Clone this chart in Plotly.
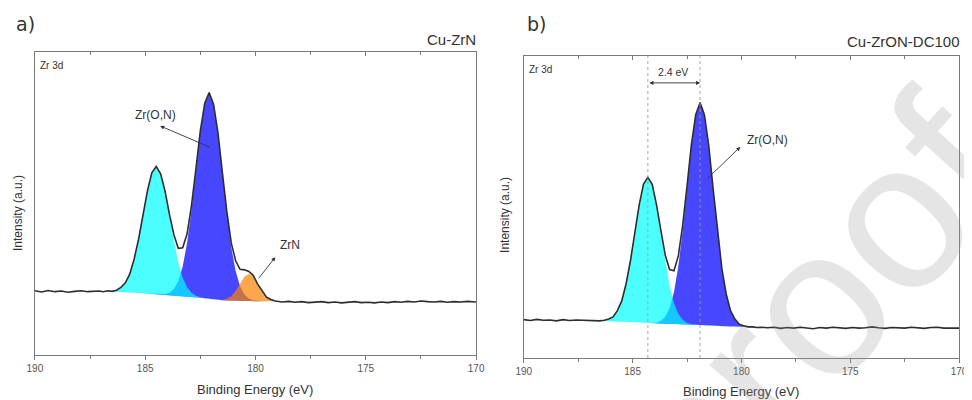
import plotly.graph_objects as go

# ---------------- data ----------------
energy_flat_left = [190.0, 189.7, 189.4, 189.1, 188.8, 188.5, 188.2, 187.9, 187.6, 187.3]
energy_grid = [187.1, 186.9, 186.7, 186.5, 186.3, 186.1, 185.9, 185.7, 185.5, 185.3,
               185.1, 184.9, 184.7, 184.5, 184.3, 184.1, 183.9, 183.7, 183.5, 183.3,
               183.1, 182.9, 182.7, 182.5, 182.3, 182.1, 181.9, 181.7, 181.5, 181.3,
               181.1, 180.9, 180.7, 180.5, 180.3, 180.1, 179.9, 179.7, 179.5, 179.3, 179.1]
energy_flat_right = [178.8, 178.5, 178.2, 177.9, 177.6, 177.3, 177.0, 176.7, 176.4, 176.1,
                     175.8, 175.5, 175.2, 174.9, 174.6, 174.3, 174.0, 173.7, 173.4, 173.1,
                     172.8, 172.5, 172.2, 171.9, 171.6, 171.3, 171.0, 170.7, 170.4, 170.1, 170.0]

# panel a) Cu-ZrN
bg_a = [21.0, 21.0, 20.9, 20.9, 20.8, 20.8, 20.7, 20.7, 20.6, 20.5, 20.4, 20.3, 20.2, 20.1, 20.0,
        19.8, 19.7, 19.6, 19.5, 19.4, 19.3, 19.2, 19.0, 18.9, 18.7, 18.5, 18.4, 18.2, 18.1, 18.0,
        17.9, 17.9, 17.8, 17.8, 17.8, 17.7, 17.7, 17.7, 17.7, 17.7, 17.7]
cyan_a = [0, 0.02, 0.06, 0.19, 0.54, 1.35, 3.02, 6.06, 10.96, 17.77, 25.89, 33.87, 39.80, 42.0,
          39.80, 33.87, 25.89, 17.77, 10.96, 6.06, 3.02, 1.35, 0.54, 0.19, 0.06, 0.02,
          0, 0, 0, 0, 0, 0, 0, 0, 0, 0, 0, 0, 0, 0, 0]
blue_a = [0, 0, 0, 0, 0, 0, 0, 0, 0, 0, 0, 0, 0, 0.03, 0.10, 0.31, 0.88, 2.18, 4.88, 9.82,
          17.74, 28.78, 41.92, 54.84, 64.44, 68.0, 64.44, 54.84, 41.92, 28.78, 17.74, 9.82,
          4.88, 2.18, 0.88, 0.31, 0.10, 0.03, 0, 0, 0]
orange_a = [0, 0, 0, 0, 0, 0, 0, 0, 0, 0, 0, 0, 0, 0, 0, 0, 0, 0, 0, 0, 0, 0, 0, 0, 0, 0, 0,
            0.04, 0.15, 0.53, 1.47, 3.25, 5.72, 8.04, 9.0, 8.04, 5.72, 3.25, 1.47, 0.53, 0.15]
meas_a_left = [21.2, 20.8, 21.3, 20.9, 21.1, 20.7, 21.0, 21.2, 20.9, 21.1]
meas_a_peak = [21.1, 20.9, 21.2, 21.0, 21.4, 22.3, 23.8, 26.7, 31.7, 38.2,
               46.4, 54.1, 60.1, 62.2, 59.8, 54.1, 46.4, 39.7, 35.2, 35.4,
               40.0, 49.4, 61.4, 74.0, 83.1, 86.6, 82.7, 73.2, 60.1, 47.4,
               37.0, 31.1, 28.3, 28.1, 27.6, 26.2, 23.4, 21.1, 19.1, 18.3, 17.8]
meas_a_right = [17.5, 17.7, 17.4, 17.6, 17.3, 17.5, 17.6, 17.3, 17.5, 17.2,
                17.4, 17.6, 17.3, 17.4, 17.2, 17.5, 17.3, 17.6, 17.4, 17.7,
                17.5, 17.8, 17.6, 17.5, 17.7, 17.4, 17.6, 17.5, 17.7, 17.6, 17.5]

# panel b) Cu-ZrON-DC100
bg_b = [12.4, 12.4, 12.3, 12.3, 12.2, 12.2, 12.1, 12.1, 12.0, 11.9, 11.9, 11.8, 11.7, 11.7, 11.6,
        11.5, 11.4, 11.4, 11.3, 11.3, 11.2, 11.2, 11.1, 11.0, 11.0, 10.9, 10.9, 10.8, 10.7, 10.6,
        10.6, 10.5, 10.5, 10.4, 10.4, 10.3, 10.3, 10.3, 10.2, 10.2, 10.2]
cyan_b = [0, 0, 0.02, 0.07, 0.22, 0.62, 1.55, 3.47, 6.97, 12.60, 20.44, 29.78, 38.95, 45.77,
          48.3, 45.77, 38.95, 29.78, 20.44, 12.60, 6.97, 3.47, 1.55, 0.62, 0.22, 0.07, 0.02,
          0, 0, 0, 0, 0, 0, 0, 0, 0, 0, 0, 0, 0, 0]
blue_b = [0, 0, 0, 0, 0, 0, 0, 0, 0, 0, 0, 0, 0, 0, 0.03, 0.11, 0.34, 0.95, 2.36, 5.28, 10.63,
          19.20, 31.15, 45.37, 59.36, 69.75, 73.6, 69.75, 59.36, 45.37, 31.15, 19.20, 10.63,
          5.28, 2.36, 0.95, 0.34, 0.11, 0.03, 0, 0]
meas_b_left = [12.7, 12.4, 12.8, 12.5, 12.6, 12.3, 12.7, 12.4, 12.6, 12.5]
meas_b_peak = [12.5, 12.3, 12.4, 12.3, 12.5, 12.9, 13.6, 15.7, 18.9, 24.6,
               32.2, 41.7, 50.6, 57.6, 59.8, 57.5, 50.6, 42.2, 34.0, 29.3,
               28.9, 33.8, 43.9, 56.9, 70.7, 80.6, 84.6, 80.5, 70.2, 55.9,
               41.9, 29.6, 21.2, 15.6, 12.9, 11.2, 10.7, 10.3, 10.3, 10.1, 10.2]
meas_b_right = [10.0, 10.2, 9.8, 10.1, 9.9, 10.2, 10.0, 9.7, 10.1, 9.9,
                10.2, 10.0, 9.8, 10.1, 9.9, 10.0, 10.3, 10.0, 9.8, 10.1,
                10.0, 9.9, 10.2, 10.0, 9.8, 10.1, 10.2, 9.9, 10.0, 10.1, 9.9]
peak_centers_b = [184.3, 181.9]

x_ticks = [190, 185, 180, 175, 170]
x_tick_labels = ["190", "185", "180", "175", "170"]

# ---------------- styles / layout helpers ----------------
FONT = "Liberation Sans, Arial, sans-serif"
TXT = "#333333"
AX = "#7a7a7a"
CYAN = "rgba(0,255,255,0.70)"
BLUE = "rgba(0,0,255,0.72)"
ORANGE = "rgba(250,130,0,0.70)"

# observed offset/scale of the rendered page (screen pixel -> paper fraction)
OX, OY, W, H = 13.0, 8.0, 961.0, 400.0


def fx(px):
    return (px - OX) / W


def fy(py):
    return 1 - (py - OY) / H


fig = go.Figure()


def add_component(xa, ya, bg, h, color):
    top = [b + v for b, v in zip(bg, h)]
    fig.add_trace(go.Scatter(x=energy_grid, y=bg, mode="lines", line=dict(width=0),
                             hoverinfo="skip", showlegend=False, xaxis=xa, yaxis=ya))
    fig.add_trace(go.Scatter(x=energy_grid, y=top, mode="lines", line=dict(width=0),
                             fill="tonexty", fillcolor=color, hoverinfo="skip",
                             showlegend=False, xaxis=xa, yaxis=ya))


all_energy = energy_flat_left + energy_grid + energy_flat_right

# panel a
add_component("x", "y", bg_a, blue_a, BLUE)
add_component("x", "y", bg_a, cyan_a, CYAN)
add_component("x", "y", bg_a, orange_a, ORANGE)
fig.add_trace(go.Scatter(x=all_energy, y=meas_a_left + meas_a_peak + meas_a_right, mode="lines",
                         line=dict(color="#2e2e2e", width=1.6), showlegend=False,
                         xaxis="x", yaxis="y"))
# panel b
add_component("x2", "y2", bg_b, blue_b, BLUE)
add_component("x2", "y2", bg_b, cyan_b, CYAN)
fig.add_trace(go.Scatter(x=all_energy, y=meas_b_left + meas_b_peak + meas_b_right, mode="lines",
                         line=dict(color="#2e2e2e", width=1.6), showlegend=False,
                         xaxis="x2", yaxis="y2"))
# dummy traces for top tick axes
fig.add_trace(go.Scatter(x=[None], y=[None], xaxis="x3", yaxis="y", showlegend=False))
fig.add_trace(go.Scatter(x=[None], y=[None], xaxis="x4", yaxis="y2", showlegend=False))

dom_xa = [fx(32), fx(476)]
dom_xb = [fx(524), fx(962)]
dom_ya = [fy(355), fy(52)]
dom_yb = [fy(358), fy(56)]


def xaxis_bottom(domain, anchor):
    return dict(domain=domain, anchor=anchor, range=[190, 170], tickvals=x_ticks,
                ticktext=x_tick_labels, ticks="outside", ticklen=4, tickcolor=AX,
                tickfont=dict(family=FONT, size=10, color="#555555"),
                minor=dict(tick0=170, dtick=2.5, ticks="outside", ticklen=3, tickcolor=AX),
                showline=True, linecolor=AX, linewidth=1.3, mirror=True,
                showgrid=False, zeroline=False)


def xaxis_top(domain, anchor, over):
    return dict(domain=domain, anchor=anchor, overlaying=over, side="top", range=[190, 170],
                tickvals=x_ticks, showticklabels=False, ticks="inside", ticklen=4,
                tickcolor=AX, minor=dict(tick0=170, dtick=2.5, ticks="inside", ticklen=3,
                                         tickcolor=AX),
                showline=False, showgrid=False, zeroline=False)


def yaxis(domain, anchor):
    return dict(domain=domain, anchor=anchor, range=[0, 100], showticklabels=False,
                ticks="", showline=True, linecolor=AX, linewidth=1.3, mirror=True,
                showgrid=False, zeroline=False)


ann = []


def text(x, y, s, size, xref, yref, xanchor="center", angle=0, color=TXT, family=FONT):
    ann.append(dict(x=x, y=y, xref=xref, yref=yref, text=s, showarrow=False,
                    xanchor=xanchor, yanchor="middle", textangle=angle,
                    font=dict(family=family, size=size, color=color)))


def arrow(hx, hy, tx, ty, xref, yref, side="end"):
    ann.append(dict(x=hx, y=hy, ax=tx, ay=ty, xref=xref, yref=yref, axref=xref, ayref=yref,
                    text="", showarrow=True, arrowhead=2, arrowsize=0.9, arrowwidth=0.9,
                    arrowcolor="#333333", arrowside=side, standoff=0, startstandoff=0))


# panel labels & titles
text(fx(11), fy(24), "a)", 19, "paper", "paper", xanchor="left", family="DejaVu Sans")
text(fx(525), fy(24), "b)", 19, "paper", "paper", xanchor="left", family="DejaVu Sans")
text(fx(478), fy(39), "Cu-ZrN", 15, "paper", "paper", xanchor="right")
text(fx(965), fy(41), "Cu-ZrON-DC100", 15, "paper", "paper", xanchor="right")
# axis titles
text(fx(15), fy(213), "Intensity (a.u.)", 12, "paper", "paper", angle=-90)
text(fx(505), fy(215), "Intensity (a.u.)", 12, "paper", "paper", angle=-90)
text(fx(254), fy(389), "Binding Energy (eV)", 13, "paper", "paper")
text(fx(743), fy(391), "Binding Energy (eV)", 13, "paper", "paper")
# inside labels panel a
text(189.86, 95.4, "Zr 3d", 10, "x", "y", xanchor="left")
text(184.55, 79.2, "Zr(O,N)", 12, "x", "y")
arrow(184.32, 75.6, 181.98, 68.3, "x", "y")
text(178.42, 36.3, "ZrN", 12, "x", "y")
arrow(179.10, 32.3, 179.91, 24.8, "x", "y")
# inside labels panel b
text(189.86, 95.4, "Zr 3d", 10, "x2", "y2", xanchor="left")
text(178.81, 72.2, "Zr(O,N)", 12, "x2", "y2")
arrow(180.05, 69.9, 181.64, 58.9, "x2", "y2")
text(183.15, 94.7, "2.4 eV", 10.5, "x2", "y2")
arrow(peak_centers_b[1], 91.1, peak_centers_b[0], 91.1, "x2", "y2", side="end+start")

# watermark (on top, translucent)
ann.append(dict(x=fx(812), y=fy(310), xref="paper", yref="paper", text="proof",
                showarrow=False, textangle=-48, xanchor="center", yanchor="middle",
                font=dict(family=FONT, size=210, color="rgba(150,150,150,0.25)")))

shapes = []
for c in peak_centers_b:
    shapes.append(dict(type="line", xref="x2", yref="y2", x0=c, x1=c, y0=0, y1=100,
                       line=dict(color="#9a9a9a", width=0.9, dash="dot")))

fig.update_layout(
    width=972, height=400, autosize=False, margin=dict(l=0, r=0, t=0, b=0, pad=0),
    paper_bgcolor="white", plot_bgcolor="white", showlegend=False,
    xaxis=xaxis_bottom(dom_xa, "y"), yaxis=yaxis(dom_ya, "x"),
    xaxis2=xaxis_bottom(dom_xb, "y2"), yaxis2=yaxis(dom_yb, "x2"),
    xaxis3=xaxis_top(dom_xa, "y", "x"), xaxis4=xaxis_top(dom_xb, "y2", "x2"),
    annotations=ann, shapes=shapes,
)

fig.write_html("out.html")
